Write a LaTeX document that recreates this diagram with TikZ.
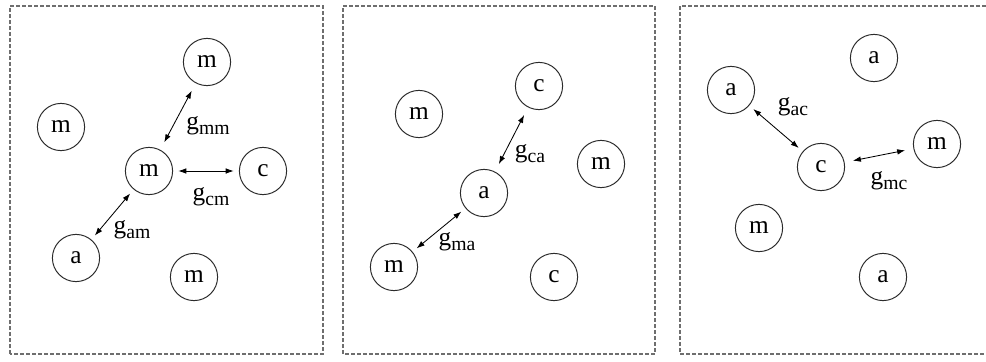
\documentclass[tikz,border=0pt]{standalone}
\usepackage{fontspec}
\setmainfont{Liberation Serif}
\usepackage{tikz}
\usetikzlibrary{arrows.meta}
\definecolor{framegrey}{HTML}{6E6E6E}
\definecolor{inkgrey}{HTML}{2B2B2B}
\newcommand{\gsub}[1]{g\raisebox{-0.45ex}{\fontsize{14}{15}\selectfont #1}}
\tikzset{
  particle/.style={circle,draw=inkgrey,line width=0.7pt,minimum size=1.18cm,inner sep=0pt,font=\fontsize{18}{19}\selectfont},
  lab/.style={inner sep=0pt,font=\fontsize{18}{19}\selectfont},
  link/.style={{Latex[length=2mm,width=1.4mm]}-{Latex[length=2mm,width=1.4mm]},line width=0.6pt,draw=black,shorten >=0.13cm,shorten <=0.13cm},
  longlink/.style={link,shorten >=0.21cm,shorten <=0.21cm},
  frame/.style={draw=framegrey,line width=1.3pt,dash pattern=on 0.1cm off 0.05cm}
}

\begin{document}
\begin{tikzpicture}
  \useasboundingbox (0,0) rectangle (24.65,9.025);

  % frames
  \draw[frame] (0.25,0.175) rectangle (8.075,8.875);
  \draw[frame] (8.575,0.175) rectangle (16.375,8.875);
  \draw[frame] (24.65,8.875) -- (17.0,8.875) -- (17.0,0.175) -- (24.65,0.175);

  % first panel
  \node[particle] (m1top) at (5.175,7.475) {m};
  \node[particle] (m1left) at (1.525,5.85) {m};
  \node[particle] (m1mid) at (3.725,4.75) {m};
  \node[particle] (c1) at (6.575,4.75) {c};
  \node[particle] (a1) at (1.9,2.575) {a};
  \node[particle] (m1bot) at (4.85,2.1) {m};
  \node[lab] (gmm) at (5.2,5.875) {\gsub{mm}};
  \node[lab] (gcm) at (5.275,4.1) {\gsub{cm}};
  \node[lab] (gam) at (3.3,3.275) {\gsub{am}};

  % second panel
  \node[particle] (c2top) at (13.475,6.875) {c};
  \node[particle] (m2left) at (10.475,6.175) {m};
  \node[particle] (m2right) at (15.025,4.925) {m};
  \node[particle] (a2) at (12.1,4.2) {a};
  \node[particle] (m2bot) at (9.85,2.35) {m};
  \node[particle] (c2bot) at (13.85,2.1) {c};
  \node[lab] (gca) at (13.25,5.175) {\gsub{ca}};
  \node[lab] (gma) at (11.425,2.975) {\gsub{ma}};

  % third panel
  \node[particle] (a3top) at (21.85,7.575) {a};
  \node[particle] (a3left) at (18.275,6.775) {a};
  \node[particle] (m3right) at (23.425,5.425) {m};
  \node[particle] (c3) at (20.525,4.85) {c};
  \node[particle] (m3left) at (18.975,3.325) {m};
  \node[particle] (a3bot) at (22.075,2.1) {a};
  \node[lab] (gac) at (19.825,6.35) {\gsub{ac}};
  \node[lab] (gmc) at (22.225,4.5) {\gsub{mc}};

  \draw[longlink] (m1mid) -- (m1top);
  \draw[link] (m1mid) -- (c1);
  \draw[link] (a1) -- (m1mid);
  \draw[longlink] (a2) -- (c2top);
  \draw[link] (m2bot) -- (a2);
  \draw[link] (a3left) -- (c3);
  \draw[longlink] (c3) -- (m3right);
\end{tikzpicture}
\end{document}
